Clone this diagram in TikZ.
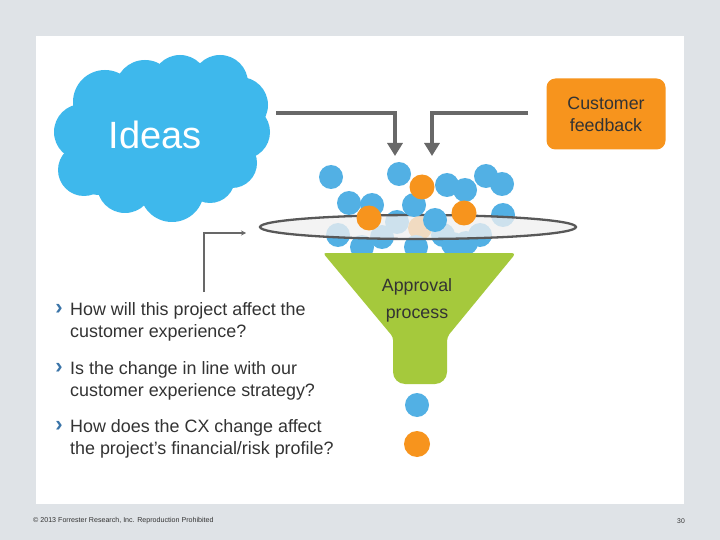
\documentclass[tikz,border=0pt]{standalone}
\usepackage{fontspec}
\setmainfont{Liberation Sans}
\usetikzlibrary{arrows.meta}
\definecolor{bg}{HTML}{DFE3E7}
\definecolor{cloudblue}{HTML}{3EB8EC}
\definecolor{ballblue}{HTML}{52B0E4}
\definecolor{ballorange}{HTML}{F7941D}
\definecolor{fgreen}{HTML}{A5C93C}
\definecolor{arrowgray}{HTML}{686868}
\definecolor{txt}{HTML}{333333}
\definecolor{bulletc}{HTML}{3A74A8}
\tikzset{
  bb/.style={fill=ballblue,draw=none},
  ob/.style={fill=ballorange,draw=none},
  bigarrow/.style={draw=arrowgray,line width=4pt,-{Triangle[width=15pt,length=13pt]}},
  thinarrow/.style={draw=arrowgray,line width=1.2pt,-{Stealth[width=5pt,length=5pt]}},
  qtext/.style={anchor=north west,align=left,text=txt,font=\fontsize{17.9}{22}\selectfont,inner sep=0pt},
  bulletmark/.style={text=bulletc,font=\fontsize{22}{22}\selectfont\bfseries,inner sep=0pt},
}
\begin{document}
\begin{tikzpicture}[x=1pt,y=-1pt]
\useasboundingbox (0,0) rectangle (720,540);
\fill[bg] (0,0) rectangle (720,540);
\fill[white] (36,36) rectangle (684,504);

% cloud
\begin{scope}[fill=cloudblue]
\fill (160,135) circle (55);
\fill (200,130) circle (45);
\fill (130,140) circle (48);
\fill (100,160) circle (35);
\fill (82,132) circle (28);
\fill (84,170) circle (26);
\fill (105,102) circle (32);
\fill (145,90) circle (30);
\fill (180,83) circle (28);
\fill (220,83) circle (28);
\fill (240,105) circle (28);
\fill (243,132) circle (27);
\fill (232,163) circle (25);
\fill (210,178) circle (25);
\fill (172,190) circle (32);
\fill (125,185) circle (28);
\end{scope}
\node[text=white,font=\fontsize{38}{40}\selectfont] (ideas) at (155,135) {Ideas};

% customer feedback box
\node[fill=ballorange,rounded corners=9pt,minimum width=119pt,minimum height=71pt,align=center,
      text=txt,font=\fontsize{17.8}{22}\selectfont] (fb) at (606,114) {Customer\\feedback};

% big arrows
\coordinate (a1s) at (276,113);
\coordinate (a1e) at (395,156);
\coordinate (a2s) at (528,113);
\coordinate (a2e) at (432,156);
\draw[bigarrow] (a1s) -| (a1e);
\draw[bigarrow] (a2s) -| (a2e);

% balls behind the ellipse
\fill[bb] (503,215) circle (12);
\fill[bb] (397,222) circle (12);
\fill[bb] (338,235) circle (12);
\fill[bb] (362,247) circle (12);
\fill[bb] (382,237) circle (12);
\fill[ob] (420,228) circle (12);
\fill[bb] (443,235) circle (12);
\fill[bb] (416,247) circle (12);
\fill[bb] (466,243) circle (12);
\fill[bb] (480,235) circle (12);
\fill[bb] (453,244) circle (12);

% ellipse
\fill[gray!12,opacity=0.78] (418,227) ellipse (158 and 12);
\draw[arrowgray!85!black,line width=2.3pt] (418,227) ellipse (158 and 12);

% balls in front
\fill[bb] (331,177) circle (12);
\fill[bb] (399,174) circle (12);
\fill[bb] (447,185) circle (12);
\fill[bb] (465,190) circle (12);
\fill[bb] (486,176) circle (12);
\fill[bb] (502,184) circle (12);
\fill[bb] (349,203) circle (12);
\fill[bb] (372,205) circle (12);
\fill[bb] (414,205) circle (12);
\fill[ob] (422,187) circle (12.5);
\fill[ob] (369,218) circle (12.5);
\fill[bb] (435,220) circle (12);
\fill[ob] (464,213) circle (12.5);

% funnel
\fill[fgreen] [rounded corners=4pt] (323,253) -- (516,253) -- (447,337)
  [rounded corners=12pt] -- (447,384) -- (393,384) [rounded corners=3pt] -- (393,337) -- cycle;
\node[text=txt,font=\fontsize{17.8}{27}\selectfont,align=center] (ap) at (417,300) {Approval\\process};

% output balls
\fill[bb] (417,405) circle (12);
\fill[ob] (417,444) circle (13);

% thin bracket arrow
\coordinate (bs) at (204,292);
\coordinate (be) at (246,233);
\draw[thinarrow] (bs) |- (be);

% bullets
\node[bulletmark] (b1) at (59,309) {›};
\node[qtext] (q1) at (70,302) {How will this project affect the\\customer experience?};
\node[bulletmark] (b2) at (59,368) {›};
\node[qtext] (q2) at (70,361) {Is the change in line with our\\customer experience strategy?};
\node[bulletmark] (b3) at (59,426) {›};
\node[qtext] (q3) at (70,419) {How does the CX change affect\\the project’s financial/risk profile?};

% footer
\node[anchor=west,inner sep=0pt,text=txt,font=\fontsize{7.1}{8}\selectfont] (copy) at (33,521) {© 2013 Forrester Research, Inc. Reproduction Prohibited};
\node[anchor=east,inner sep=0pt,text=txt,font=\fontsize{6.8}{8}\selectfont] (pg) at (685,521) {30};
\end{tikzpicture}
\end{document}
